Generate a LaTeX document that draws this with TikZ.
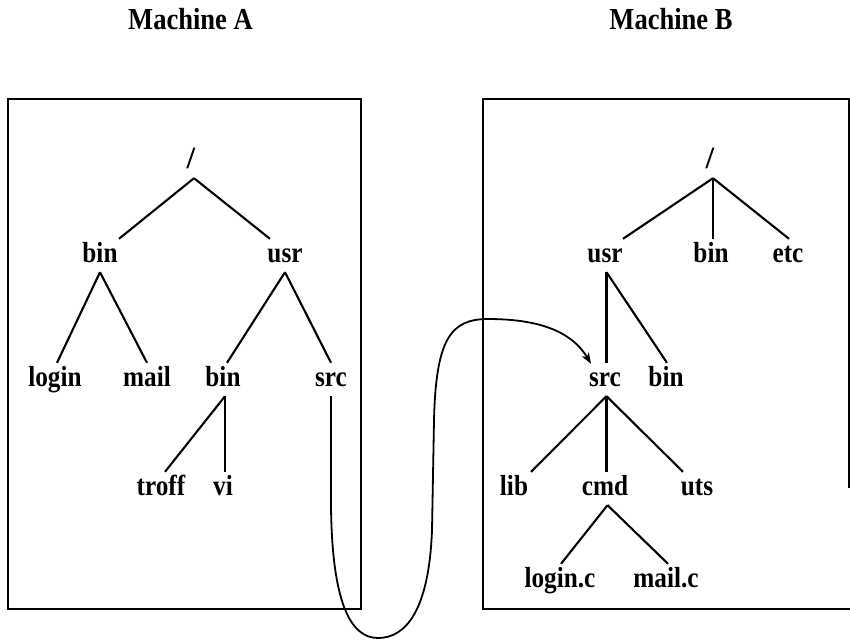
\documentclass[tikz,border=0pt]{standalone}
\usepackage{fontspec}
\setmainfont{Liberation Serif}
\newfontfamily\tallfont[FakeStretch=0.87]{Liberation Serif}
\usetikzlibrary{arrows.meta}
\tikzset{
  lbl/.style={font=\tallfont\bfseries\fontsize{29}{32}\selectfont, anchor=base,
    text height=18pt, text depth=5pt, inner xsep=2pt, inner ysep=5pt},
  rootlbl/.style={lbl, font=\bfseries\fontsize{31}{34}\selectfont},
  ttl/.style={font=\tallfont\bfseries\fontsize{30.5}{34}\selectfont, anchor=base, inner sep=0pt},
  edge/.style={line width=2.1pt},
  frame/.style={line width=2.1pt},
  link/.style={line width=1.8pt, -{Stealth[length=11pt,width=8pt,inset=3pt]}}
}
\begin{document}
\begin{tikzpicture}[x=1pt,y=-1pt]
\useasboundingbox (0,0) rectangle (850,643);
% titles
\node[ttl] (tA) at (190.5,29) {Machine A};
\node[ttl] (tB) at (671,29) {Machine B};
% frames
\draw[frame] (8,99) rectangle (361,609);
\draw[frame] (850,99) -- (483,99) -- (483,609) -- (850,609);
\draw[frame] (849,99) -- (849,488);
% tree A
\node[rootlbl] (rA) at (191,168) {/};
\node[lbl] (binA) at (100,262) {bin};
\node[lbl] (usrA) at (285,262) {usr};
\node[lbl] (login) at (55,386) {login};
\node[lbl] (mail) at (147,386) {mail};
\node[lbl] (bin2A) at (223,386) {bin};
\node[lbl] (srcA) at (331,386) {src};
\node[lbl] (troff) at (161,495) {troff};
\node[lbl] (vi) at (223,495) {vi};
\draw[edge] ([xshift=3pt]rA.south) -- ([xshift=19pt]binA.north);
\draw[edge] ([xshift=3pt]rA.south) -- ([xshift=-15pt]usrA.north);
\draw[edge] (binA.south) -- ([xshift=2pt]login.north);
\draw[edge] (binA.south) -- (mail.north);
\draw[edge] (usrA.south) -- ([xshift=4pt]bin2A.north);
\draw[edge] (usrA.south) -- (srcA.north);
\draw[edge] ([xshift=2pt]bin2A.south) -- ([xshift=4pt]troff.north);
\draw[edge] ([xshift=2pt]bin2A.south) -- ([xshift=2pt]vi.north);
% tree B
\node[rootlbl] (rB) at (710,168) {/};
\node[lbl] (usrB) at (605,262) {usr};
\node[lbl] (binB) at (711,262) {bin};
\node[lbl] (etc) at (788,262) {etc};
\node[lbl] (srcB) at (605,386) {src};
\node[lbl] (bin2B) at (666,386) {bin};
\node[lbl] (lib) at (514,495) {lib};
\node[lbl] (cmd) at (605,495) {cmd};
\node[lbl] (uts) at (697,495) {uts};
\node[lbl] (loginc) at (560,587) {login.c};
\node[lbl] (mailc) at (666,587) {mail.c};
\draw[edge] ([xshift=3pt]rB.south) -- ([xshift=18pt]usrB.north);
\draw[edge] ([xshift=3pt]rB.south) -- ([xshift=2pt]binB.north);
\draw[edge] ([xshift=3pt]rB.south) -- ([xshift=1pt]etc.north);
\draw[edge] ([xshift=1.5pt]usrB.south) -- ([xshift=1.5pt]srcB.north);
\draw[edge] ([xshift=1.5pt]usrB.south) -- ([xshift=1pt]bin2B.north);
\draw[edge] ([xshift=1.5pt]srcB.south) -- ([xshift=17pt]lib.north);
\draw[edge] ([xshift=1.5pt]srcB.south) -- ([xshift=1.5pt]cmd.north);
\draw[edge] ([xshift=1.5pt]srcB.south) -- ([xshift=-14pt]uts.north);
\draw[edge] ([xshift=2.5pt]cmd.south) -- ([xshift=1pt]loginc.north);
\draw[edge] ([xshift=2.5pt]cmd.south) -- ([xshift=2pt]mailc.north);
% link
\coordinate (tip) at ([xshift=-14pt,yshift=-1pt]srcB.north);
\draw[link] (srcA.south) -- ++(0,110)
  .. controls ++(1,95) and (350,638) .. (378,638)
  .. controls (406,638) and (429,610) .. (432,530)
  -- (434,420)
  .. controls (436,340) and (450,319) .. (488,319)
  .. controls (540,319) and (572,332) .. (tip);
\end{tikzpicture}
\end{document}
